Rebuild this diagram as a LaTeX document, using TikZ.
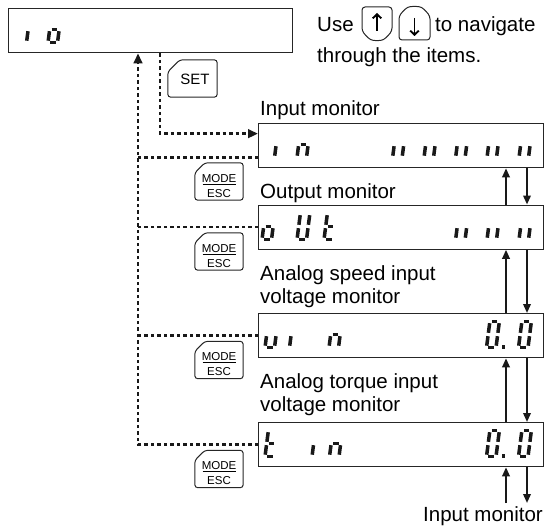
\documentclass[tikz,border=0pt]{standalone}
\usepackage{fontspec}
\setmainfont{Liberation Sans}
\usetikzlibrary{arrows.meta,calc}

\tikzset{
 dispbox/.style={draw=black!85, line width=1.3pt, anchor=north west, minimum width=285pt, minimum height=44pt, inner sep=0pt},
 lbl/.style={inner sep=0pt, font=\fontsize{20.5}{24}\selectfont},
 dotline/.style={line width=2.6pt, dash pattern=on 3.5pt off 3pt, black!90},
 dottip/.style={-{Triangle[length=10pt,width=8.5pt]}},
 navarrow/.style={line width=1.9pt, black!90, -{Triangle[length=9pt,width=7.5pt]}},
 seg/.style={line width=3.5pt, black!90},
 keyline/.style={draw=black!85, line width=1pt, rounded corners=3pt},
 keytxt/.style={font=\fontsize{11.5}{12}\selectfont, anchor=base, inner sep=0pt},
}

\newcommand\SegA{\draw[seg] (1.9,-26) -- (7.6,-26);}
\newcommand\SegB{\draw[seg] (9.5,-24.3) -- (9.5,-14.7);}
\newcommand\SegC{\draw[seg] (9.5,-11.3) -- (9.5,-1.8);}
\newcommand\SegD{\draw[seg] (1.9,0) -- (7.6,0);}
\newcommand\SegE{\draw[seg] (0,-11.3) -- (0,-1.8);}
\newcommand\SegF{\draw[seg] (0,-24.3) -- (0,-14.7);}
\newcommand\SegG{\draw[seg] (1.9,-13) -- (7.6,-13);}
\newcommand\digit[3]{\begin{scope}[shift={(#1,#2)}, xslant=0.13]\foreach \s in {#3}{\csname Seg\s\endcsname}\end{scope}}

\newcommand\modekey[3]{%
 \node[minimum width=48pt,minimum height=37pt,inner sep=0pt] (#1) at (#2,#3) {};
 \draw[keyline] ([yshift=-10pt]#1.north west) -- ([xshift=10pt]#1.north west) -- (#1.north east) -- (#1.south east) -- (#1.south west) -- cycle;
 \node[keytxt] (#1m) at ([yshift=-0.5pt]#1.center) {MODE};
 \node[keytxt] (#1e) at ([yshift=-15.5pt]#1.center) {ESC};
 \draw[line width=0.8pt] ([yshift=-2.5pt,xshift=-16.5pt]#1.center) -- ([yshift=-2.5pt,xshift=16.5pt]#1.center);
}

\begin{document}
\begin{tikzpicture}[x=1pt,y=-1pt]
\useasboundingbox (0,0) rectangle (545,527);

% display boxes
\node[dispbox, minimum width=284pt] (top) at (8,8) {};
\node[dispbox] (in) at (258,123) {};
\node[dispbox] (out) at (258,204.5) {};
\node[dispbox] (uin) at (258,313) {};
\node[dispbox] (tin) at (258,422) {};

% seven-segment contents
\digit{17}{42.5}{C}
\digit{48}{42.5}{C,D,E,G}

\digit{265}{157.5}{C}
\digit{297}{157.5}{C,E,G}
\foreach \p in {392.6,424,455.6,487,519}{\digit{\p}{157.5}{C,E}}

\digit{262}{239.5}{C,D,E,G}
\digit{297}{239.5}{B,C,D,E,F}
\digit{324}{239.5}{D,E,F,G}
\foreach \p in {455.6,487,519}{\digit{\p}{239.5}{C,E}}

\digit{265}{347.5}{C,D,E}
\digit{280}{347.5}{C}
\digit{329}{347.5}{C,E,G}
\digit{486.5}{347.5}{A,B,C,D,E,F}
\fill[black!90] (501.5,345) rectangle (504.5,348.5);
\digit{518.5}{347.5}{A,B,C,D,E,F}

\digit{265}{456.5}{D,E,F,G}
\digit{302.5}{456.5}{C}
\digit{329.5}{456.5}{C,E,G}
\digit{486.5}{456.5}{A,B,C,D,E,F}
\fill[black!90] (501.5,454) rectangle (504.5,457.5);
\digit{518.5}{456.5}{A,B,C,D,E,F}

% labels
\node[lbl, anchor=base west] (l1) at (260,115) {Input monitor};
\node[lbl, anchor=base west] (l2) at (260,198) {Output monitor};
\node[lbl, anchor=base west] (l3a) at (260,280) {Analog speed input};
\node[lbl, anchor=base west] (l3b) at (260,303) {voltage monitor};
\node[lbl, anchor=base west] (l4a) at (260,388) {Analog torque input};
\node[lbl, anchor=base west] (l4b) at (260,411) {voltage monitor};
\node[lbl, anchor=base east] (l5) at (543,521) {Input monitor};

\node[lbl, anchor=base west] (use) at (317,32) {Use};
\node[lbl, anchor=base west] (nav) at (435,32) {to navigate};
\node[lbl, anchor=base west] (thr) at (317,63) {through the items.};

% up / down keys
\draw[keyline] (362,31) -- (362,7) -- (392,7) -- (392,31) -- (386,38) .. controls (381,41) and (373,41) .. (368,38) -- cycle;
\draw[line width=1.9pt, -{Straight Barb[length=4pt,width=8.5pt]}] (377,31) -- (377,13);
\draw[keyline] (399,40) -- (399,16) -- (405,9) .. controls (410,6) and (419,6) .. (424,9) -- (430,16) -- (430,40) -- cycle;
\draw[line width=1.9pt, -{Straight Barb[length=4pt,width=8.5pt]}] (414.5,18) -- (414.5,36);

% SET key
\node[minimum width=49pt,minimum height=37pt,inner sep=0pt] (setk) at (192.5,78.5) {};
\draw[keyline] ([yshift=-12pt]setk.north west) -- ([xshift=12pt]setk.north west) -- (setk.north east) -- (setk.south east) -- (setk.south west) -- cycle;
\node[inner sep=0pt, anchor=base, font=\fontsize{15}{16}\selectfont] (settxt) at (195,84) {SET};

% MODE/ESC keys
\modekey{k1}{219}{181.5}
\modekey{k2}{219}{251.5}
\modekey{k3}{219}{360}
\modekey{k4}{219}{469}

% dotted connectors
\coordinate (vx) at (138,0);
\coordinate (sx) at (160,0);
\draw[dotline, dottip] (tin.west) -- (tin.west -| vx) -- (top.south -| vx);
\draw[dotline] (uin.west) -- (uin.west -| vx);
\draw[dotline] (out.west) -- (out.west -| vx);
\draw[dotline] ([yshift=-12pt]in.west) -- ([yshift=-12pt]in.west -| vx);
\draw[dotline, dottip] (top.south -| sx) |- ([yshift=12pt]in.west);

% navigation arrows
\coordinate (ux) at (506,0);
\coordinate (dx) at (527,0);
\foreach \a/\b in {in/out,out/uin,uin/tin}{
 \draw[navarrow] (\b.north -| ux) -- (\a.south -| ux);
 \draw[navarrow] (\a.south -| dx) -- (\b.north -| dx);
}
\coordinate (ue) at (506,503);
\coordinate (de) at (527,503);
\draw[navarrow] (ue) -- (tin.south -| ue);
\draw[navarrow] (tin.south -| de) -- (de);
\end{tikzpicture}
\end{document}
